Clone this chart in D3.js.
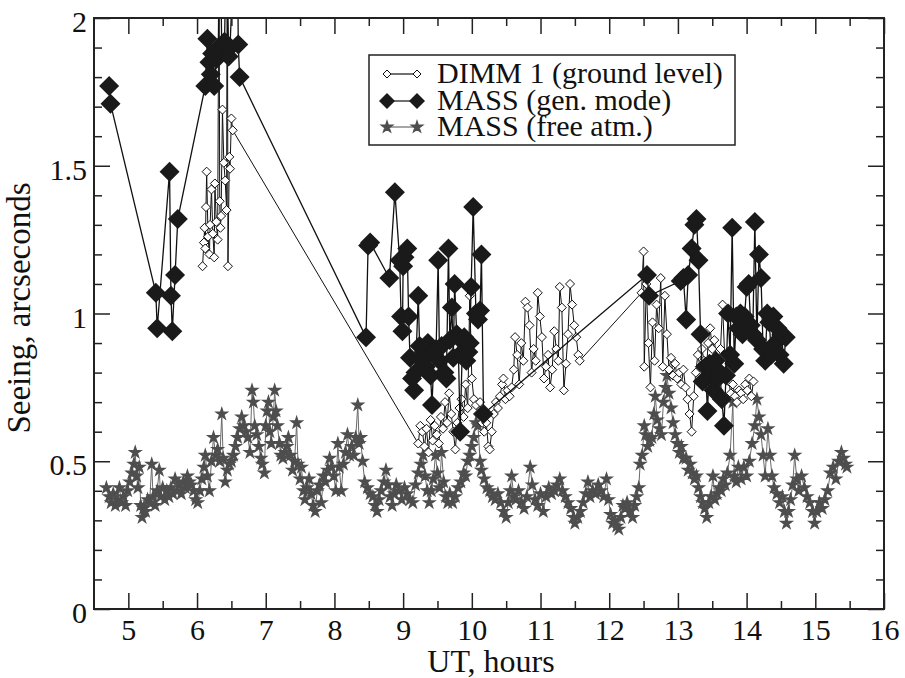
<!DOCTYPE html>
<html>
<head>
<meta charset="utf-8">
<script src="https://cdn.jsdelivr.net/npm/d3@7"></script>
<style>
  body { margin: 0; background: #fff; }
  svg text { font-family: "Liberation Serif", "Tinos", "Times New Roman", Times, "DejaVu Serif", serif; }
</style>
</head>
<body>
<div id="chart"></div>
<script>
// [UT hours, seeing arcsec]
var dimm = [
  [6.08,1.16],[6.10,1.24],[6.11,1.29],[6.12,1.22],[6.13,1.36],[6.14,1.48],[6.16,1.26],[6.18,1.20],
  [6.19,1.30],[6.21,1.42],[6.23,1.27],[6.25,1.19],[6.26,1.44],[6.28,1.31],[6.30,1.25],[6.32,2.30],
  [6.33,1.38],[6.34,1.29],[6.35,1.33],[6.37,1.69],[6.39,1.51],[6.41,1.45],[6.43,1.35],[6.44,2.40],
  [6.45,1.16],[6.47,1.53],[6.48,1.49],[6.50,1.66],[6.52,1.62],
  [9.22,0.56],[9.25,0.62],[9.28,0.60],[9.31,0.55],[9.34,0.61],[9.37,0.53],[9.40,0.64],[9.43,0.57],
  [9.46,0.62],[9.49,0.59],[9.52,0.56],[9.55,0.65],[9.58,0.61],[9.61,0.70],[9.64,0.63],[9.67,0.73],
  [9.70,0.66],[9.73,0.60],[9.76,0.54],[9.79,0.63],[9.82,0.68],[9.85,0.71],[9.88,0.65],[9.91,0.76],
  [9.94,0.68],[9.97,1.06],[10.00,0.78],[10.03,0.71],[10.06,0.69],[10.09,0.66],[10.12,0.70],[10.15,0.63],
  [10.18,0.60],[10.21,0.63],[10.24,0.55],[10.26,0.54],[10.29,0.60],[10.32,0.66],[10.35,0.70],[10.38,0.68],
  [10.41,0.72],[10.44,0.76],[10.46,0.78],[10.49,0.71],[10.52,0.74],[10.55,0.72],[10.58,0.75],[10.61,0.81],
  [10.63,0.92],[10.66,0.86],[10.69,0.76],[10.72,0.90],[10.75,0.84],[10.78,1.04],[10.81,1.02],[10.84,0.96],
  [10.87,0.80],[10.90,0.88],[10.93,0.84],[10.96,1.07],[10.99,0.99],[11.02,0.92],[11.05,0.78],[11.08,0.82],
  [11.11,0.86],[11.14,0.75],[11.17,0.81],[11.20,0.94],[11.23,0.88],[11.26,0.84],[11.28,1.09],[11.31,1.02],
  [11.34,0.74],[11.37,0.83],[11.40,0.93],[11.43,1.10],[11.46,1.03],[11.49,0.96],[11.52,0.92],[11.55,0.86],
  [11.57,0.84],
  [12.47,1.07],[12.50,1.21],[12.51,0.82],[12.54,1.10],[12.57,0.90],[12.60,0.75],[12.63,0.97],[12.66,0.84],
  [12.69,1.03],[12.72,0.95],[12.75,1.12],[12.78,0.82],[12.81,1.06],[12.84,0.93],[12.87,0.81],[12.90,0.85],
  [12.93,0.79],[12.96,0.83],[12.99,0.78],[13.02,0.80],[13.05,0.76],[13.08,0.81],[13.11,0.75],[13.14,0.71],
  [13.17,0.66],[13.20,0.60],[13.23,0.72],[13.26,0.80],[13.29,0.86],[13.32,0.82],[13.35,0.88],[13.38,0.84],
  [13.41,0.79],[13.44,0.90],[13.47,0.95],[13.50,0.88],[13.53,0.91],[13.56,0.85],[13.59,0.82],[13.62,0.88],
  [13.65,1.03],[13.68,0.86],[13.71,0.80],[13.74,0.77],[13.77,0.73],[13.80,0.76],[13.83,0.72],[13.86,0.70],
  [13.89,0.74],[13.92,0.73],[13.95,0.71],[13.98,0.76],[14.01,0.74],[14.04,0.78],[14.07,0.72],[14.10,0.77]
];

var massGen = [
  [4.72,1.77],[4.74,1.71],[5.40,1.07],[5.42,0.95],[5.60,1.48],[5.62,1.06],[5.64,0.94],[5.68,1.13],
  [5.72,1.32],[6.12,1.77],[6.15,1.93],[6.18,1.85],[6.20,1.81],[6.22,1.88],[6.25,1.77],[6.28,1.86],
  [6.31,1.90],[6.33,2.40],[6.36,1.89],[6.40,1.92],[6.43,2.30],[6.46,1.87],[6.48,1.90],[6.58,2.50],
  [6.60,1.91],[6.62,1.80],
  [8.46,0.92],[8.49,1.23],[8.52,1.24],[8.80,1.12],[8.88,1.41],[8.95,1.18],[8.97,0.99],[8.99,0.94],
  [9.00,1.16],[9.02,1.19],[9.06,1.22],[9.08,0.99],[9.10,0.85],[9.13,0.78],[9.16,0.74],[9.18,0.80],
  [9.22,1.06],[9.24,0.89],[9.27,0.84],[9.30,0.87],[9.33,0.82],[9.36,0.90],[9.40,0.79],[9.42,0.69],
  [9.45,0.86],[9.48,0.88],[9.51,1.18],[9.53,0.84],[9.56,0.89],[9.60,0.80],[9.63,0.78],[9.66,1.22],
  [9.68,0.91],[9.71,1.02],[9.73,0.85],[9.75,1.10],[9.78,0.93],[9.80,0.92],[9.83,0.60],[9.86,0.87],
  [9.89,0.92],[9.92,0.84],[9.95,0.87],[9.97,0.90],[9.99,1.09],[10.02,1.36],[10.06,1.00],[10.09,0.98],
  [10.12,1.01],[10.14,1.20],[10.17,0.66],
  [12.55,1.13],[12.58,1.06],[13.04,1.11],[13.08,1.12],[13.12,0.98],[13.15,1.13],[13.20,1.22],[13.24,1.30],
  [13.27,1.32],[13.30,1.18],[13.33,0.93],[13.36,0.77],[13.40,0.82],[13.43,0.67],[13.46,0.83],[13.49,0.79],
  [13.52,0.74],[13.55,0.84],[13.58,0.78],[13.61,0.80],[13.64,0.71],[13.67,0.62],[13.70,0.79],[13.73,1.00],
  [13.76,0.86],[13.79,1.29],[13.82,0.83],[13.85,0.99],[13.88,0.95],[13.91,1.00],[13.94,0.93],[13.97,0.99],
  [14.00,1.09],[14.03,1.10],[14.06,0.96],[14.09,0.93],[14.12,1.31],[14.15,0.91],[14.18,1.20],[14.21,1.12],
  [14.24,0.88],[14.27,0.84],[14.30,1.00],[14.33,0.97],[14.36,0.86],[14.39,0.99],[14.42,0.90],[14.45,0.95],
  [14.48,0.86],[14.51,0.93],[14.54,0.83],[14.57,0.92]
];

var massFree = [
  [4.68,0.41],[4.72,0.38],[4.75,0.36],[4.78,0.39],[4.81,0.35],[4.84,0.37],[4.87,0.41],[4.90,0.36],
  [4.93,0.38],[4.96,0.35],[4.99,0.40],[5.02,0.43],[5.05,0.46],[5.08,0.49],[5.10,0.53],[5.12,0.45],
  [5.14,0.41],[5.16,0.48],[5.18,0.35],[5.20,0.31],[5.22,0.34],[5.25,0.33],[5.28,0.37],[5.31,0.36],
  [5.34,0.49],[5.36,0.38],[5.39,0.35],[5.42,0.40],[5.45,0.47],[5.47,0.38],[5.50,0.41],[5.53,0.37],
  [5.56,0.40],[5.59,0.38],[5.62,0.41],[5.65,0.39],[5.68,0.44],[5.71,0.40],[5.74,0.42],[5.77,0.39],
  [5.80,0.43],[5.83,0.41],[5.86,0.45],[5.89,0.43],[5.92,0.42],[5.95,0.40],[5.98,0.37],[6.01,0.36],
  [6.04,0.40],[6.07,0.44],[6.10,0.48],[6.12,0.52],[6.15,0.45],[6.18,0.40],[6.21,0.50],[6.24,0.58],
  [6.27,0.52],[6.30,0.54],[6.33,0.50],[6.36,0.66],[6.38,0.51],[6.41,0.43],[6.44,0.47],[6.47,0.49],
  [6.50,0.50],[6.53,0.52],[6.56,0.55],[6.59,0.58],[6.62,0.61],[6.65,0.65],[6.68,0.62],[6.71,0.60],
  [6.74,0.58],[6.77,0.53],[6.80,0.74],[6.82,0.70],[6.84,0.62],[6.87,0.59],[6.90,0.55],[6.93,0.51],
  [6.95,0.49],[6.98,0.46],[7.00,0.62],[7.02,0.67],[7.04,0.70],[7.06,0.60],[7.08,0.56],[7.11,0.65],
  [7.13,0.74],[7.15,0.67],[7.17,0.62],[7.20,0.56],[7.22,0.52],[7.25,0.51],[7.28,0.53],[7.31,0.55],
  [7.33,0.58],[7.36,0.52],[7.39,0.47],[7.42,0.50],[7.45,0.63],[7.47,0.49],[7.50,0.44],[7.52,0.48],
  [7.55,0.40],[7.57,0.37],[7.60,0.41],[7.63,0.44],[7.66,0.39],[7.69,0.35],[7.72,0.33],[7.75,0.40],
  [7.78,0.42],[7.81,0.36],[7.84,0.45],[7.87,0.43],[7.90,0.47],[7.93,0.51],[7.96,0.48],[7.99,0.45],
  [8.02,0.40],[8.05,0.56],[8.07,0.48],[8.10,0.40],[8.13,0.49],[8.16,0.53],[8.19,0.59],[8.22,0.52],
  [8.25,0.55],[8.28,0.52],[8.31,0.58],[8.34,0.69],[8.36,0.56],[8.38,0.58],[8.41,0.50],[8.44,0.43],
  [8.48,0.41],[8.52,0.39],[8.56,0.38],[8.59,0.35],[8.62,0.33],[8.65,0.37],[8.68,0.40],[8.72,0.43],
  [8.75,0.47],[8.78,0.42],[8.81,0.38],[8.84,0.35],[8.87,0.39],[8.90,0.42],[8.94,0.40],[8.98,0.37],
  [9.02,0.41],[9.06,0.39],[9.10,0.37],[9.14,0.36],[9.18,0.42],[9.22,0.46],[9.26,0.49],[9.29,0.52],
  [9.32,0.45],[9.35,0.40],[9.38,0.36],[9.41,0.40],[9.44,0.44],[9.47,0.52],[9.50,0.46],[9.53,0.41],
  [9.56,0.53],[9.59,0.43],[9.62,0.38],[9.65,0.36],[9.68,0.39],[9.72,0.36],[9.76,0.38],[9.80,0.41],
  [9.84,0.43],[9.88,0.46],[9.91,0.45],[9.94,0.50],[9.97,0.52],[10.00,0.55],[10.03,0.58],[10.06,0.63],
  [10.09,0.62],[10.12,0.50],[10.14,0.47],[10.18,0.44],[10.22,0.41],[10.26,0.40],[10.30,0.38],[10.34,0.37],
  [10.38,0.39],[10.42,0.36],[10.46,0.33],[10.50,0.31],[10.53,0.36],[10.56,0.40],[10.58,0.45],[10.61,0.38],
  [10.64,0.37],[10.68,0.40],[10.72,0.36],[10.76,0.34],[10.80,0.38],[10.85,0.48],[10.88,0.42],[10.92,0.37],
  [10.96,0.35],[11.00,0.39],[11.04,0.33],[11.08,0.38],[11.12,0.41],[11.16,0.39],[11.20,0.40],[11.24,0.42],
  [11.28,0.44],[11.32,0.40],[11.36,0.38],[11.40,0.36],[11.44,0.34],[11.48,0.31],[11.50,0.29],[11.54,0.31],
  [11.58,0.33],[11.62,0.36],[11.66,0.39],[11.69,0.43],[11.72,0.38],[11.76,0.40],[11.80,0.39],[11.84,0.42],
  [11.88,0.40],[11.92,0.38],[11.96,0.44],[11.99,0.37],[12.02,0.32],[12.05,0.29],[12.08,0.30],[12.11,0.28],
  [12.14,0.27],[12.17,0.31],[12.20,0.35],[12.23,0.34],[12.26,0.36],[12.30,0.33],[12.34,0.31],[12.37,0.35],
  [12.40,0.38],[12.43,0.41],[12.45,0.49],[12.48,0.52],[12.51,0.62],[12.53,0.59],[12.56,0.55],[12.59,0.57],
  [12.62,0.58],[12.65,0.66],[12.67,0.72],[12.70,0.64],[12.73,0.61],[12.76,0.59],[12.79,0.70],[12.82,0.75],
  [12.84,0.79],[12.87,0.73],[12.90,0.68],[12.93,0.63],[12.96,0.59],[12.99,0.56],[13.02,0.53],[13.05,0.55],
  [13.08,0.51],[13.12,0.51],[13.15,0.47],[13.18,0.49],[13.21,0.46],[13.24,0.44],[13.27,0.45],[13.30,0.41],
  [13.33,0.38],[13.36,0.36],[13.39,0.34],[13.42,0.31],[13.45,0.36],[13.48,0.38],[13.51,0.45],[13.54,0.37],
  [13.57,0.39],[13.60,0.41],[13.63,0.40],[13.66,0.44],[13.69,0.42],[13.72,0.46],[13.76,0.52],[13.80,0.70],
  [13.82,0.45],[13.85,0.43],[13.88,0.48],[13.92,0.44],[13.96,0.48],[14.00,0.45],[14.04,0.50],[14.08,0.56],
  [14.12,0.62],[14.15,0.71],[14.18,0.65],[14.21,0.59],[14.24,0.52],[14.27,0.45],[14.31,0.61],[14.34,0.52],
  [14.37,0.45],[14.40,0.41],[14.44,0.39],[14.48,0.36],[14.52,0.38],[14.55,0.33],[14.58,0.29],[14.61,0.33],
  [14.64,0.37],[14.67,0.42],[14.70,0.52],[14.73,0.44],[14.76,0.40],[14.80,0.45],[14.84,0.41],[14.88,0.38],
  [14.92,0.36],[14.96,0.33],[14.99,0.29],[15.02,0.33],[15.06,0.36],[15.10,0.34],[15.14,0.37],[15.18,0.40],
  [15.22,0.46],[15.26,0.48],[15.30,0.44],[15.34,0.50],[15.38,0.53],[15.41,0.51],[15.44,0.49],[15.46,0.48]
];

var xMajor = [5, 6, 7, 8, 9, 10, 11, 12, 13, 14, 15, 16];
var xMinor = [5.5, 6.5, 7.5, 8.5, 9.5, 10.5, 11.5, 12.5, 13.5, 14.5, 15.5];
var yMajor = [0, 0.5, 1, 1.5, 2];
var yMinor = [0.1, 0.2, 0.3, 0.4, 0.6, 0.7, 0.8, 0.9, 1.1, 1.2, 1.3, 1.4, 1.6, 1.7, 1.8, 1.9];
var legendLabels = ["DIMM 1 (ground level)", "MASS (gen. mode)", "MASS (free atm.)"];

var serif = "'Liberation Serif', Tinos, 'Times New Roman', Times, 'DejaVu Serif', serif";

var margin = {top: 18, right: 21, bottom: 69, left: 94},
    width = 905 - margin.left - margin.right,
    height = 678 - margin.top - margin.bottom;

var svg = d3.select("#chart")
    .append("svg")
    .attr("width", 905)
    .attr("height", 678)
    .style("font-family", serif)
    .append("g")
    .attr("transform", "translate(" + margin.left + "," + margin.top + ")");

var x = d3.scaleLinear().domain([4.5, 16]).range([0, width]);
var y = d3.scaleLinear().domain([0, 2]).range([height, 0]);

function diamond(r) {
    return "M0," + (-r) + "L" + r + ",0L0," + r + "L" + (-r) + ",0Z";
}
var star = d3.symbol().type(d3.symbolStar).size(26);

svg.append("clipPath").attr("id", "clip")
    .append("rect").attr("width", width).attr("height", height);

var plot = svg.append("g").attr("clip-path", "url(#clip)");

var line = d3.line().x(function(d) { return x(d[0]); }).y(function(d) { return y(d[1]); });

// free atmosphere
plot.append("path").datum(massFree)
    .attr("d", line).attr("fill", "none").attr("stroke", "#6a6a6a").attr("stroke-width", 1);
plot.selectAll(".free").data(massFree).enter().append("path")
    .attr("transform", function(d) { return "translate(" + x(d[0]) + "," + y(d[1]) + ")"; })
    .attr("d", star).attr("fill", "#4e4e4e").attr("stroke", "#4e4e4e").attr("stroke-width", 2);

// DIMM
plot.append("path").datum(dimm)
    .attr("d", line).attr("fill", "none").attr("stroke", "#111").attr("stroke-width", 1);
plot.selectAll(".dimm").data(dimm).enter().append("path")
    .attr("transform", function(d) { return "translate(" + x(d[0]) + "," + y(d[1]) + ")"; })
    .attr("d", diamond(4.5)).attr("fill", "#fff").attr("stroke", "#111").attr("stroke-width", 1);

// MASS generalized mode
plot.append("path").datum(massGen)
    .attr("d", line).attr("fill", "none").attr("stroke", "#111").attr("stroke-width", 1.3);
plot.selectAll(".gen").data(massGen).enter().append("path")
    .attr("transform", function(d) { return "translate(" + x(d[0]) + "," + y(d[1]) + ")"; })
    .attr("d", diamond(10)).attr("fill", "#1a1a1a");

// axes: ticks inward on all four sides
function styleAxis(g) {
    g.attr("font-family", null).attr("font-size", null);
    g.select(".domain").remove();
    g.selectAll("line").attr("stroke", "#222").attr("stroke-width", 1.5);
    g.selectAll("text").attr("fill", "#111").style("font-size", "30px").style("font-family", serif);
}

svg.append("g").attr("transform", "translate(0," + height + ")")
    .call(d3.axisBottom(x).tickValues(xMajor).tickSize(-16).tickPadding(10).tickFormat(function(d) { return d; }))
    .call(styleAxis);
svg.append("g").attr("transform", "translate(0," + height + ")")
    .call(d3.axisBottom(x).tickValues(xMinor).tickSize(-8).tickFormat(""))
    .call(styleAxis);
svg.append("g")
    .call(d3.axisTop(x).tickValues(xMajor).tickSize(-16).tickFormat(""))
    .call(styleAxis);
svg.append("g")
    .call(d3.axisTop(x).tickValues(xMinor).tickSize(-8).tickFormat(""))
    .call(styleAxis);

svg.append("g")
    .call(d3.axisLeft(y).tickValues(yMajor).tickSize(-16).tickPadding(7).tickFormat(function(d) { return d; }))
    .call(styleAxis)
    .selectAll("text").attr("dy", "0.45em");
svg.append("g")
    .call(d3.axisLeft(y).tickValues(yMinor).tickSize(-8).tickFormat(""))
    .call(styleAxis);
svg.append("g").attr("transform", "translate(" + width + ",0)")
    .call(d3.axisRight(y).tickValues(yMajor).tickSize(-16).tickFormat(""))
    .call(styleAxis);
svg.append("g").attr("transform", "translate(" + width + ",0)")
    .call(d3.axisRight(y).tickValues(yMinor).tickSize(-8).tickFormat(""))
    .call(styleAxis);

svg.append("rect")
    .attr("width", width).attr("height", height)
    .attr("fill", "none").attr("stroke", "#222").attr("stroke-width", 2);

// axis titles
svg.append("text")
    .attr("x", width / 2 + 2).attr("y", height + 63)
    .attr("text-anchor", "middle").style("font-size", "32px").attr("fill", "#111")
    .text("UT, hours");
svg.append("text")
    .attr("transform", "translate(" + (-64) + "," + (290) + ")rotate(-90)")
    .attr("text-anchor", "middle").style("font-size", "33px").attr("fill", "#111")
    .text("Seeing, arcseconds");

// legend
var lg = svg.append("g").attr("transform", "translate(" + (369 - margin.left) + "," + (55 - margin.top) + ")");
lg.append("rect").attr("width", 366).attr("height", 90)
    .attr("fill", "#fff").attr("stroke", "#222").attr("stroke-width", 1.5);

var rowY = [19, 46, 72];
lg.selectAll(".lgline").data(rowY).enter().append("line")
    .attr("x1", 18).attr("x2", 48).attr("y1", function(d) { return d; }).attr("y2", function(d) { return d; })
    .attr("stroke", function(d, i) { return i == 2 ? "#6a6a6a" : "#111"; }).attr("stroke-width", 1.2);

[18, 48].forEach(function(px) {
    lg.append("path").attr("transform", "translate(" + px + "," + rowY[0] + ")")
        .attr("d", diamond(4)).attr("fill", "#fff").attr("stroke", "#111");
    lg.append("path").attr("transform", "translate(" + px + "," + rowY[1] + ")")
        .attr("d", diamond(8)).attr("fill", "#1a1a1a");
    lg.append("path").attr("transform", "translate(" + px + "," + rowY[2] + ")")
        .attr("d", star).attr("fill", "#4e4e4e").attr("stroke", "#4e4e4e").attr("stroke-width", 2);
});

lg.selectAll(".lgtext").data(legendLabels).enter().append("text")
    .attr("x", 68).attr("y", function(d, i) { return rowY[i] + 9; })
    .style("font-size", "30px").attr("fill", "#111")
    .text(function(d) { return d; });
</script>
</body>
</html>
